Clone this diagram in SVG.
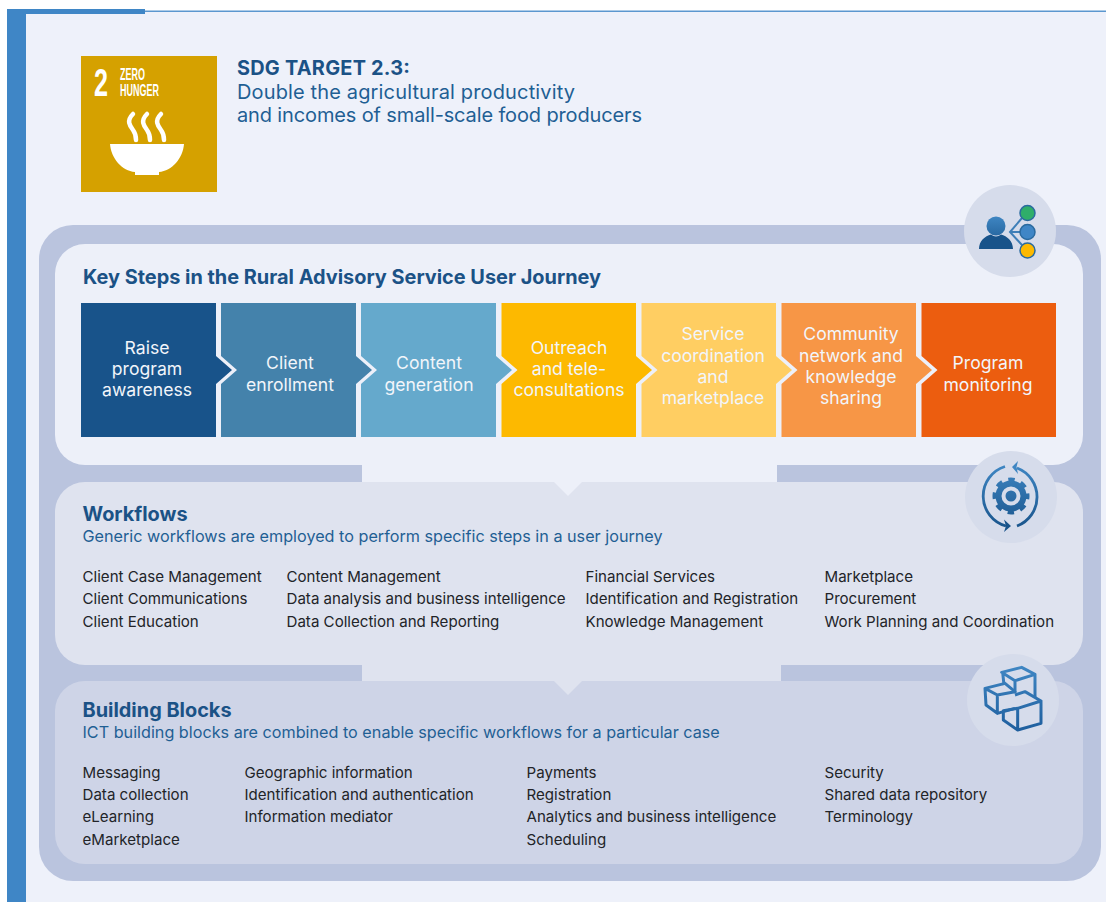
<svg xmlns="http://www.w3.org/2000/svg" width="1106" height="902" viewBox="0 0 1106 902">
<style>
text{font-family:"Inter","Liberation Sans",sans-serif}
.h{font-size:19.9px;font-weight:700;fill:#1B5286}
.sub{font-size:16.2px;fill:#1F5F94}
.hd{font-size:20px;fill:#1F5F94}
.li{font-size:15.1px;fill:#222428}
.st{font-size:17.6px;fill:#F2F5FA;text-anchor:middle}
.disc{fill:#D6DCEB}
.sdg{font-family:"Liberation Sans",sans-serif;font-weight:700;fill:#fff}
</style>
<defs>
<linearGradient id="g1" gradientUnits="userSpaceOnUse" x1="0" y1="216" x2="0" y2="250"><stop offset="0" stop-color="#3F86C3"/><stop offset="1" stop-color="#18538A"/></linearGradient>
<linearGradient id="g2" gradientUnits="userSpaceOnUse" x1="0" y1="465" x2="0" y2="530"><stop offset="0" stop-color="#3F86C3"/><stop offset="1" stop-color="#18538A"/></linearGradient>
<linearGradient id="g3" gradientUnits="userSpaceOnUse" x1="0" y1="80" x2="0" y2="270"><stop offset="0" stop-color="#3F86C3"/><stop offset="1" stop-color="#1F5F9E"/></linearGradient>
</defs>
<rect x="0" y="0" width="1106" height="902" fill="#FFFFFF"/>
<rect x="26" y="11" width="1080" height="891" fill="#EEF1FA"/>
<rect x="7" y="9" width="19" height="893" fill="#3F86C6"/>
<rect x="7" y="9" width="138" height="5" fill="#3F86C6"/>
<rect x="145" y="10.5" width="961" height="1.5" fill="#5B97CF"/>

<rect id="outer-frame" x="39" y="225" width="1062" height="656" rx="34" fill="#BAC4DE"/>

<g id="sdg-badge">
<rect x="81" y="56" width="136" height="136" fill="#D5A100"/>
<text class="sdg" x="94" y="96" font-size="39" textLength="14" lengthAdjust="spacingAndGlyphs">2</text>
<text class="sdg" x="120" y="80" font-size="16.500" textLength="25" lengthAdjust="spacingAndGlyphs">ZERO</text>
<text class="sdg" x="120" y="96" font-size="16.500" textLength="39" lengthAdjust="spacingAndGlyphs">HUNGER</text>
<path d="M110 144H184C183 158 172 171 159 172V175H135V172C122 171 111 158 110 144Z" fill="#fff"/>
<g fill="none" stroke="#fff" stroke-width="4.500" stroke-linecap="round">
<path d="M133 114C126 121 130 126 133 130C136 134 136 137 136 140"/>
<path d="M147 114C140 121 144 126 147 130C150 134 150 137 150 140"/>
<path d="M161 114C154 121 158 126 161 130C164 134 164 137 164 140"/>
</g>
</g>

<g id="target-text">
<text class="h" x="237" y="75" textLength="173">SDG TARGET 2.3:</text>
<text class="hd" x="237" y="99" textLength="338">Double the agricultural productivity</text>
<text class="hd" x="237" y="122" textLength="405">and incomes of small-scale food producers</text>
</g>

<g id="connectors">
<rect x="362" y="460" width="415" height="23" fill="#EDF0F9"/>
<rect x="362" y="660" width="419" height="22" fill="#DFE3EF"/>
</g>

<g id="journey-panel">
<rect x="55" y="244" width="1028" height="221" rx="30" fill="#EDF0F9"/>
<text class="h" x="83" y="284" textLength="518">Key Steps in the Rural Advisory Service User Journey</text>
</g>
<g id="step-1">
<path d="M81 303H216V356L232 370L216 384V437H81Z" fill="#18538A"/>
<text class="st"><tspan x="147" y="354">Raise</tspan><tspan x="147" y="375">program</tspan><tspan x="147" y="396">awareness</tspan></text>
</g>
<g id="step-2">
<path d="M221 303H356V356L372 370L356 384V437H221V384L237 370L221 356Z" fill="#4482AB"/>
<text class="st"><tspan x="290" y="369">Client</tspan><tspan x="290" y="391">enrollment</tspan></text>
</g>
<g id="step-3">
<path d="M361 303H496V356L512 370L496 384V437H361V384L377 370L361 356Z" fill="#65A9CC"/>
<text class="st"><tspan x="429" y="369">Content</tspan><tspan x="429" y="391">generation</tspan></text>
</g>
<g id="step-4">
<path d="M501.500 303H636V356L652 370L636 384V437H501.500V384L517.500 370L501.500 356Z" fill="#FDB900"/>
<text class="st"><tspan x="569" y="354">Outreach</tspan><tspan x="569" y="375">and tele-</tspan><tspan x="569" y="396">consultations</tspan></text>
</g>
<g id="step-5">
<path d="M641.500 303H776V356L792 370L776 384V437H641.500V384L657.500 370L641.500 356Z" fill="#FFCE62"/>
<text class="st"><tspan x="713" y="340">Service</tspan><tspan x="713" y="362">coordination</tspan><tspan x="713" y="383">and</tspan><tspan x="713" y="404">marketplace</tspan></text>
</g>
<g id="step-6">
<path d="M781.500 303H916V356L932 370L916 384V437H781.500V384L797.500 370L781.500 356Z" fill="#F79646"/>
<text class="st"><tspan x="851" y="340">Community</tspan><tspan x="851" y="362">network and</tspan><tspan x="851" y="383">knowledge</tspan><tspan x="851" y="404">sharing</tspan></text>
</g>
<g id="step-7">
<path d="M921.500 303H1056V437H921.500V384L937.500 370L921.500 356Z" fill="#EC5D0F"/>
<text class="st"><tspan x="988" y="369">Program</tspan><tspan x="988" y="391">monitoring</tspan></text>
</g>

<g id="workflows-panel">
<rect x="55" y="482" width="1028" height="183" rx="30" fill="#DFE3EF"/>
<path d="M553 481H583L568 496Z" fill="#EDF0F9"/>
<text class="h" x="82.500" y="521">Workflows</text>
<text class="sub" x="82.500" y="542">Generic workflows are employed to perform specific steps in a user journey</text>
<text class="li"><tspan x="82.500" y="582">Client Case Management</tspan><tspan x="82.500" y="604">Client Communications</tspan><tspan x="82.500" y="627">Client Education</tspan></text>
<text class="li"><tspan x="286.500" y="582">Content Management</tspan><tspan x="286.500" y="604">Data analysis and business intelligence</tspan><tspan x="286.500" y="627">Data Collection and Reporting</tspan></text>
<text class="li"><tspan x="585.500" y="582">Financial Services</tspan><tspan x="585.500" y="604">Identification and Registration</tspan><tspan x="585.500" y="627">Knowledge Management</tspan></text>
<text class="li"><tspan x="824.500" y="582">Marketplace</tspan><tspan x="824.500" y="604">Procurement</tspan><tspan x="824.500" y="627">Work Planning and Coordination</tspan></text>
</g>

<g id="blocks-panel">
<rect x="55" y="681" width="1028" height="183" rx="30" fill="#CED4E7"/>
<path d="M553 680H583L568 695Z" fill="#DFE3EF"/>
<text class="h" x="82.500" y="717">Building Blocks</text>
<text class="sub" x="82.500" y="738">ICT building blocks are combined to enable specific workflows for a particular case</text>
<text class="li"><tspan x="82.500" y="778">Messaging</tspan><tspan x="82.500" y="800">Data collection</tspan><tspan x="82.500" y="822">eLearning</tspan><tspan x="82.500" y="845">eMarketplace</tspan></text>
<text class="li"><tspan x="244.500" y="778">Geographic information</tspan><tspan x="244.500" y="800">Identification and authentication</tspan><tspan x="244.500" y="822">Information mediator</tspan></text>
<text class="li"><tspan x="526.500" y="778">Payments</tspan><tspan x="526.500" y="800">Registration</tspan><tspan x="526.500" y="822">Analytics and business intelligence</tspan><tspan x="526.500" y="845">Scheduling</tspan></text>
<text class="li"><tspan x="824.500" y="778">Security</tspan><tspan x="824.500" y="800">Shared data repository</tspan><tspan x="824.500" y="822">Terminology</tspan></text>
</g>

<g id="icon-journey">
<circle class="disc" cx="1010" cy="231" r="46"/>
<circle cx="996" cy="226" r="9.500" fill="url(#g1)"/>
<path d="M979 249C979 241 985 236 991 234.500C994 237 998 237 1001 234.500C1007 236 1013 241 1013 249Z" fill="#18538A"/>
<path d="M1022 218L1010 232L1022 245M1010 232H1022" fill="none" stroke="#3F7FB8" stroke-width="2"/>
<circle cx="1027.500" cy="213" r="7.500" fill="#2FAE6A" stroke="#2A6A9F" stroke-width="1.500"/>
<circle cx="1027.500" cy="232" r="7.500" fill="#3F86C6" stroke="#2A6A9F" stroke-width="1.500"/>
<circle cx="1027.500" cy="250.500" r="7.500" fill="#FDB900" stroke="#2A6A9F" stroke-width="1.500"/>
</g>

<g id="icon-workflows">
<circle class="disc" cx="1011" cy="497" r="46"/>
<circle cx="1011" cy="496" r="12.500" fill="none" stroke="url(#g2)" stroke-width="6"/>
<circle cx="1011" cy="496" r="16.500" fill="none" stroke="url(#g2)" stroke-width="4" stroke-dasharray="6.500 6.460" stroke-dashoffset="3.250"/>
<circle cx="1011" cy="496" r="5.500" fill="url(#g2)"/>
<path d="M1005 466.500A31 31 0 0 0 1006 526" fill="none" stroke="url(#g2)" stroke-width="2.800"/>
<path d="M1017 526A31 31 0 0 0 1017 468" fill="none" stroke="url(#g2)" stroke-width="2.800"/>
<path d="M1012 467L1018 461L1016.500 467L1018 474Z" fill="#3F86C3"/>
<path d="M1011 526L1004 519.500L1006 526L1004 532Z" fill="#18538A"/>
</g>

<g id="icon-blocks">
<circle class="disc" cx="1013" cy="700" r="46"/>
<g transform="translate(920 640) scale(.33333)" fill="none" stroke="url(#g3)" stroke-width="9" stroke-linejoin="round">
<path d="M245 97L305 82L345 103L285 122ZM248 97L252 135M285 122V160M345 103V172"/>
<path d="M195 145L255 130L285 155L232 165ZM195 145L198 195L232 220V165M232 220L285 205"/>
<path d="M285 165L315 155L363 183L293 205L250 212V240L293 270L363 250V183M293 205V270"/>
</g>
</g>
</svg>
